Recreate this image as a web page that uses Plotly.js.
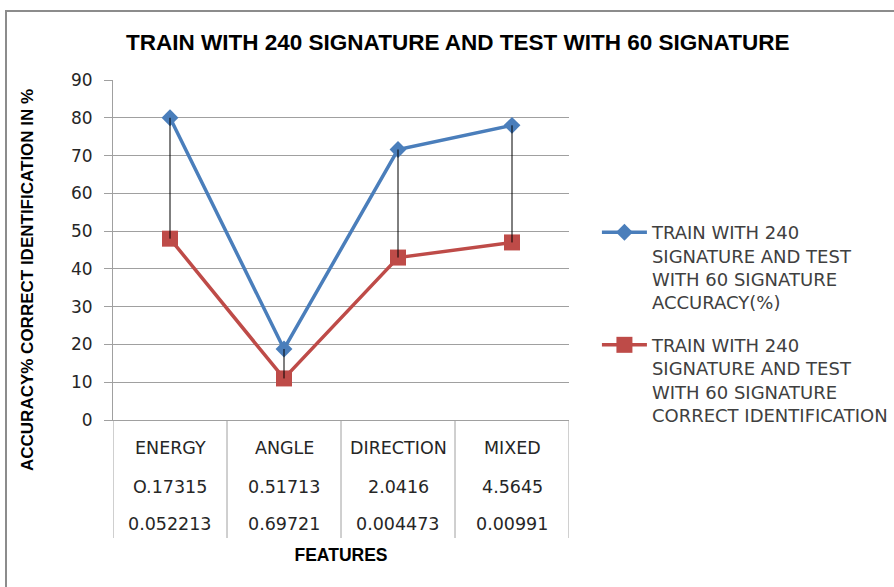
<!DOCTYPE html>
<html>
<head>
<meta charset="utf-8">
<script src="https://cdn.plot.ly/plotly-3.0.1.min.js"></script>
<style>
html,body{margin:0;padding:0;background:#fff;}
#wrap{position:relative;width:894px;height:587px;overflow:hidden;}
#chart{position:absolute;left:0;top:0;width:894px;height:587px;}
#frame{position:absolute;left:5px;top:10px;width:1000px;height:1000px;border-left:2px solid #8c8c8c;border-top:2px solid #8c8c8c;pointer-events:none;}
</style>
</head>
<body>
<div id="wrap"><div id="chart"></div><div id="frame"></div></div>
<script>
var categories = ["ENERGY", "ANGLE", "DIRECTION", "MIXED"];
var accuracy = [80, 18.8, 71.6, 78];
var correctIdent = [48, 11, 43, 47];
var tableRow1 = ["O.17315", "0.51713", "2.0416", "4.5645"];
var tableRow2 = ["0.052213", "0.69721", "0.004473", "0.00991"];
var seriesNames = [
  "TRAIN WITH 240<br>SIGNATURE AND TEST<br>WITH 60 SIGNATURE<br>ACCURACY(%)",
  "TRAIN WITH 240<br>SIGNATURE AND TEST<br>WITH 60 SIGNATURE<br>CORRECT IDENTIFICATION"
];
var yTicks = [0, 10, 20, 30, 40, 50, 60, 70, 80, 90];

var idx = categories.map(function(c, i){ return i; });

var dropX = [], dropY = [];
idx.forEach(function(i){
  dropX.push(i, i, null);
  dropY.push(accuracy[i], correctIdent[i], null);
});

var traces = [
  {x: idx, y: accuracy, type: 'scatter', mode: 'lines+markers', name: seriesNames[0], legendgroup: 'a',
   line: {color: '#4a7ebb', width: 3.5},
   marker: {symbol: 'diamond', size: 13, color: '#4a7ebb'}},
  {x: idx, y: correctIdent, type: 'scatter', mode: 'lines+markers', name: seriesNames[1], legendgroup: 'b',
   line: {color: '#be4b48', width: 3.5},
   marker: {symbol: 'square', size: 16, color: '#be4b48'}},
  {x: dropX, y: dropY, type: 'scatter', mode: 'lines', showlegend: false, hoverinfo: 'skip',
   line: {color: '#000000', width: 1}}
];

var plotH = 340; // px height of plot area
var plotW = 456;
function py(px){ return -px / plotH; }

var tableFont = {family: 'DejaVu Sans', size: 17.5, color: '#262626'};
var annotations = [];
idx.forEach(function(i){
  annotations.push({x: i, y: py(28), xref: 'x', yref: 'paper', text: categories[i], showarrow: false, font: tableFont, xanchor: 'center', yanchor: 'middle'});
  annotations.push({x: i, y: py(67), xref: 'x', yref: 'paper', text: tableRow1[i], showarrow: false, font: tableFont, xanchor: 'center', yanchor: 'middle'});
  annotations.push({x: i, y: py(104), xref: 'x', yref: 'paper', text: tableRow2[i], showarrow: false, font: tableFont, xanchor: 'center', yanchor: 'middle'});
});
// y axis title (placed like the original, centred on plot + table)
annotations.push({x: -86 / plotW, y: 140 / plotH, xref: 'paper', yref: 'paper', textangle: -90,
  text: 'ACCURACY% CORRECT IDENTIFICATION IN %', showarrow: false,
  font: {family: 'Liberation Sans', size: 17, color: '#000', weight: 'bold'}, xanchor: 'center', yanchor: 'middle'});

var shapes = [];
for (var k = 0; k <= categories.length; k++) {
  shapes.push({type: 'line', xref: 'x', yref: 'paper', x0: k - 0.5, x1: k - 0.5, y0: 0, y1: py(118),
    line: {color: '#a0a0a0', width: 1}});
}

var layout = {
  width: 894, height: 587,
  margin: {l: 113, r: 325, t: 80, b: 167},
  paper_bgcolor: 'rgba(0,0,0,0)', plot_bgcolor: '#ffffff',
  showlegend: true,
  title: {text: 'TRAIN WITH 240 SIGNATURE AND TEST WITH 60 SIGNATURE',
    font: {family: 'Liberation Sans', size: 22.5, color: '#000', weight: 'bold'},
    x: 0.512, xanchor: 'center', y: 0.928, yanchor: 'middle'},
  xaxis: {range: [-0.5, categories.length - 0.5], showticklabels: false, ticks: '',
    showgrid: false, zeroline: false, showline: true, linecolor: '#a0a0a0', linewidth: 1,
    fixedrange: true, automargin: true,
    title: {text: 'FEATURES', font: {family: 'Liberation Sans', size: 17.5, color: '#000', weight: 'bold'}, standoff: 128}},
  yaxis: {range: [0, 90], tickvals: yTicks, showgrid: true, gridcolor: '#a0a0a0', gridwidth: 1,
    zeroline: false, showline: true, linecolor: '#a0a0a0', linewidth: 1,
    ticks: 'outside', ticklen: 8, tickcolor: '#a0a0a0', ticklabelstandoff: 8,
    tickfont: {family: 'DejaVu Sans', size: 17, color: '#262626'},
    fixedrange: true, automargin: false},
  legend: {xref: 'container', yref: 'container', x: 0.6677, xanchor: 'left', y: 0.6354, yanchor: 'top', valign: 'top',
    font: {family: 'DejaVu Sans', size: 18, color: '#404040'},
    itemwidth: 45, tracegroupgap: 16, bgcolor: 'rgba(0,0,0,0)'},
  annotations: annotations,
  shapes: shapes
};

Plotly.newPlot('chart', traces, layout, {displayModeBar: false, staticPlot: true});
</script>
</body>
</html>
